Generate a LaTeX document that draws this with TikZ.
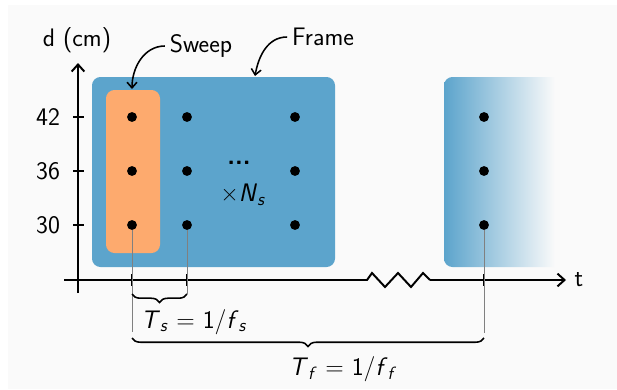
\documentclass[tikz,border=0pt]{standalone}
\usepackage{fontspec}
\usetikzlibrary{arrows.meta, decorations.pathreplacing}

\definecolor{frameblue}{RGB}{92,164,204}
\definecolor{sweeporange}{RGB}{253,170,110}
\definecolor{bggray}{RGB}{250,250,250}
\newcommand{\var}[1]{\textit{#1}}
\newcommand{\sub}[1]{\textsubscript{\textit{#1}}}

\begin{document}
\begin{tikzpicture}[x=0.025cm, y=-0.025cm, >={Straight Barb[length=5pt,width=9pt]},
    font=\fontsize{18}{21}\selectfont\sffamily,
    dot/.style={circle, fill=black, inner sep=0pt, minimum size=7pt},
    axis/.style={line width=1.4pt},
    tick/.style={line width=1pt},
    guide/.style={gray, line width=0.6pt},
    callout/.style={->, line width=1.1pt, >={Straight Barb[length=4pt,width=7pt]}},
    span/.style={decorate, decoration={brace, mirror, amplitude=6pt}, line width=1.1pt}]
    \useasboundingbox (0,0) rectangle (617,389);
    \fill[bggray] (8,5) rectangle (617,389);

    % Frames
    \fill[frameblue, rounded corners=6pt] (92,77) rectangle (335,267);
    \fill[sweeporange, rounded corners=6pt] (106,90) rectangle (160,253);
    \begin{scope}
      \clip[rounded corners=6pt] (444,77) rectangle (600,267);
      \shade[left color=frameblue, right color=bggray] (444,77) rectangle (555,267);
    \end{scope}

    % Axes
    \node (dlabel) at (77,40) {d (cm)};
    \node (tlabel) at (579,280) {t};
    \coordinate (ybot) at (78,293);
    \coordinate (ytop) at (78,63);
    \coordinate (xleft) at (64,280);
    \coordinate (zzin) at (367,280);
    \coordinate (zzout) at (430,280);
    \coordinate (xright) at (566,280);
    \draw[axis, ->] (ybot) -- (ytop);
    \draw[axis] (xleft) -- (zzin) -- ++(5,-7) -- ++(13,14) -- ++(13,-14) -- ++(13,14)
      -- ++(12,-14) -- (zzout);
    \draw[axis, ->] (zzout) -- (xright);

    % Depth ticks
    \foreach \d/\y in {42/117, 36/171, 30/225} {
      \draw[tick] (73,\y) -- (84,\y);
      \node[anchor=east] (tick\d) at (65,\y) {\d};
    }

    % Measurement points
    \foreach \c/\x in {1/132, 2/187, 3/295, 4/484} {
      \foreach \r/\y in {1/117, 2/171, 3/225} {
        \node[dot] (p\c\r) at (\x,\y) {};
      }
    }
    \node (dots) at (239,163) {\textbf{...}};
    \node (times) at (243,195) {×\var{N}\sub{s}};

    % Time marks
    \coordinate (ts0) at (132,280);
    \coordinate (ts1) at (187,280);
    \coordinate (tf1) at (484,280);
    \foreach \t in {ts0, ts1, tf1}
      \draw[tick] ([yshift=4pt]\t) -- ([yshift=-4pt]\t);
    \coordinate (sA) at (132,294);
    \coordinate (sB) at (187,294);
    \coordinate (fA) at (132,338);
    \coordinate (fB) at (484,338);
    \draw[guide] (p13) -- (132,332);
    \draw[guide] (p23) -- (sB);
    \draw[guide] (p43) -- (484,333);

    % Periods
    \node (tslabel) at (194,322) {\var{T}\sub{s} = 1/\var{f}\sub{s}};
    \node (tflabel) at (343,369) {\var{T}\sub{f} = 1/\var{f}\sub{f}};
    \draw[span] (sA) -- (sB);
    \draw[span] (fA) -- (fB);

    % Callouts
    \node (sweep) at (201,46) {Sweep};
    \node (frame) at (323,37) {Frame};
    \draw[callout] (sweep.west) to[out=180, in=90] (132,89);
    \draw[callout] (frame.west) to[out=180, in=80] (255,76);
\end{tikzpicture}
\end{document}
